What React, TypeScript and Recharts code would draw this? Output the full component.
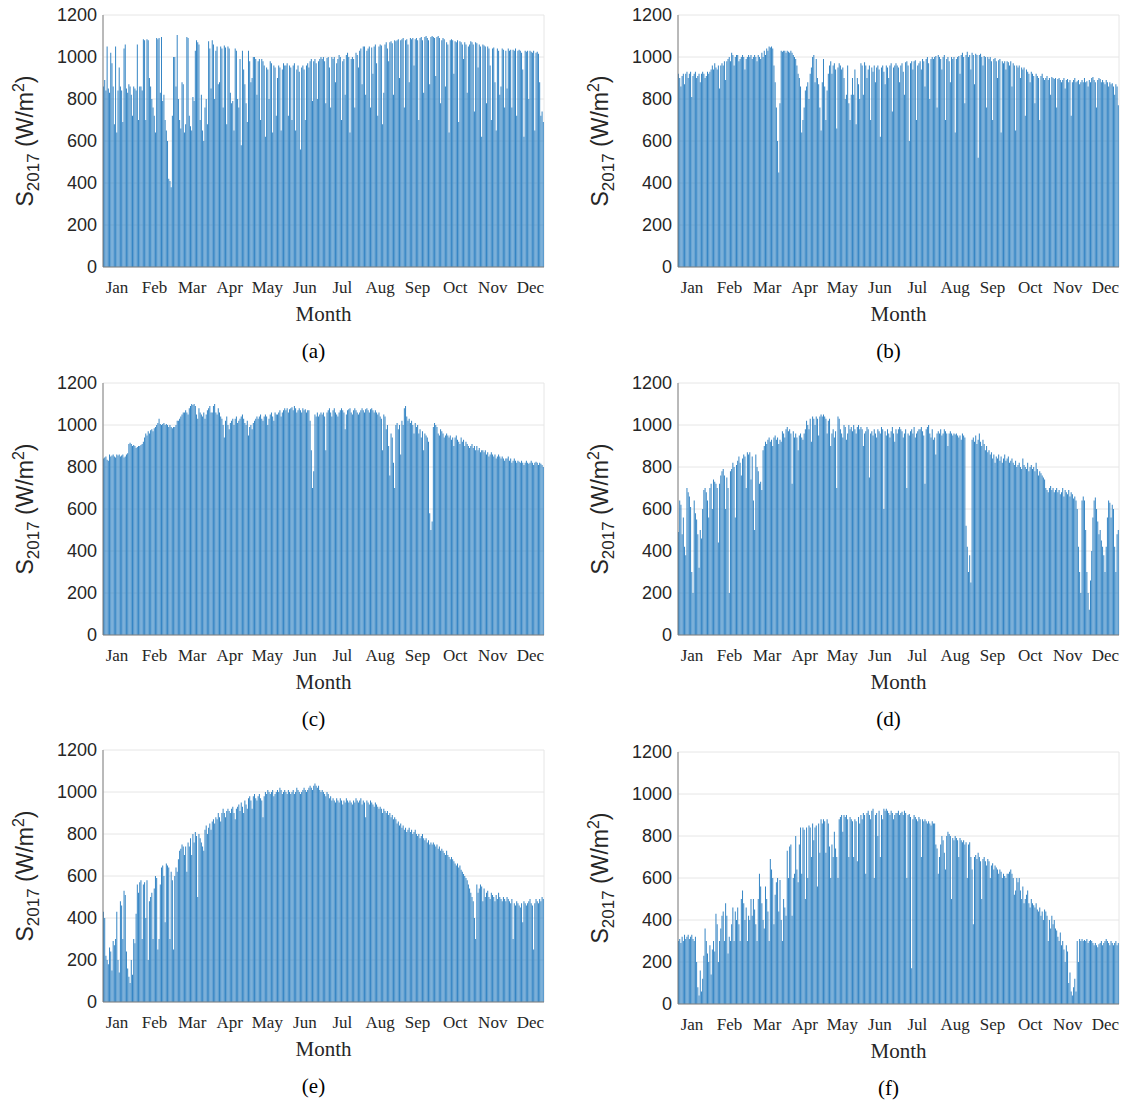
import React from 'react';
import { BarChart, Bar, XAxis, YAxis, CartesianGrid } from 'recharts';

// month labels / axis ticks
const monthNames = ['Jan', 'Feb', 'Mar', 'Apr', 'May', 'Jun', 'Jul', 'Aug', 'Sep', 'Oct', 'Nov', 'Dec'];
const monthDays = [31, 28, 31, 30, 31, 30, 31, 31, 30, 31, 30, 31];
const monthTickHours = [278, 1024, 1771, 2517, 3264, 4010, 4756, 5503, 6249, 6996, 7742, 8489];
const gridTicks = [0, 2000, 4000, 6000, 8000];
const yTicks = [0, 200, 400, 600, 800, 1000, 1200];

// daily peak irradiance (W/m2), one row per month
const peaksA = [
  [860, 890, 840, 1050, 850, 830, 1020, 970, 860, 680, 1050, 640, 840, 950, 860, 840, 690, 1040, 1060, 850, 830, 870, 860, 820, 720, 860, 850, 840, 1060, 700, 860],
  [860, 840, 1085, 1080, 700, 1085, 1080, 900, 860, 800, 760, 720, 640, 1090, 1085, 1090, 830, 1095, 790, 820, 700, 650, 600, 420, 410, 380, 720, 1000],
  [1000, 860, 1105, 800, 700, 660, 880, 870, 640, 680, 1095, 1090, 720, 670, 650, 810, 790, 1030, 1080, 1070, 1060, 700, 820, 650, 600, 760, 800, 680, 1075, 1040, 850],
  [1080, 1060, 800, 1030, 1050, 870, 880, 1050, 1040, 760, 1055, 1045, 680, 1050, 1040, 830, 780, 790, 650, 1040, 1030, 800, 760, 990, 580, 1030, 940, 870, 780, 690],
  [1030, 980, 880, 900, 1000, 1000, 990, 820, 980, 990, 700, 990, 980, 960, 620, 950, 940, 800, 980, 970, 640, 960, 950, 720, 900, 960, 950, 650, 940, 970, 960],
  [960, 970, 720, 960, 950, 700, 960, 970, 650, 940, 960, 930, 560, 950, 960, 940, 700, 960, 970, 950, 980, 990, 790, 980, 990, 970, 800, 980, 990, 1000],
  [990, 1000, 980, 780, 995, 1000, 950, 760, 1000, 990, 1000, 880, 970, 990, 1010, 1000, 700, 980, 990, 820, 1010, 1020, 1000, 640, 990, 1000, 990, 760, 1020, 1010, 950],
  [1030, 1040, 870, 1050, 1050, 820, 1030, 1040, 1050, 760, 1045, 920, 1050, 1060, 970, 720, 1050, 1060, 1055, 680, 830, 1060, 1070, 1040, 980, 1070, 1075, 1065, 820, 1080, 1075],
  [1080, 1085, 900, 1080, 1085, 1090, 760, 1080, 1085, 1060, 880, 1090, 1085, 1090, 960, 1085, 1090, 1080, 700, 1090, 1095, 1080, 830, 1095, 1100, 1090, 1080, 870, 1095, 1100],
  [1095, 1090, 910, 1095, 1100, 1090, 780, 1080, 1090, 1085, 860, 1070, 1060, 640, 1080, 1085, 1080, 920, 1075, 1070, 1080, 690, 1075, 1070, 1060, 990, 1070, 1060, 830, 1050, 1060],
  [1075, 1070, 1060, 740, 1070, 1065, 950, 1060, 1050, 620, 1060, 1055, 1050, 780, 1050, 1040, 960, 700, 1040, 1045, 880, 650, 1040, 1030, 820, 860, 1040, 1035, 760, 1030],
  [850, 1040, 1030, 1035, 760, 1035, 1030, 1040, 720, 1030, 1035, 1030, 1020, 940, 620, 1030, 1025, 1030, 800, 1030, 1025, 1020, 1030, 650, 1020, 1025, 1015, 880, 720, 740, 690],
];

const peaksB = [
  [920, 900, 860, 910, 920, 870, 920, 930, 900, 920, 930, 810, 910, 920, 930, 900, 910, 920, 880, 920, 930, 920, 900, 910, 930, 920, 930, 940, 960, 940, 970],
  [950, 940, 960, 850, 960, 970, 960, 980, 890, 980, 990, 1000, 980, 1020, 1010, 960, 1000, 1010, 1010, 980, 990, 1000, 1010, 1000, 940, 990, 1000, 1010],
  [1000, 1010, 990, 1000, 1010, 1000, 980, 1010, 1000, 990, 1020, 1000, 1030, 1010, 1040, 1030, 1050, 1045, 1050, 1040, 960, 880, 760, 600, 450, 780, 1030, 1025, 1030, 1030, 1020],
  [1030, 1025, 1020, 1030, 1020, 1010, 1000, 990, 960, 920, 900, 860, 640, 700, 760, 840, 860, 880, 800, 920, 950, 1000, 1010, 880, 990, 900, 870, 760, 650, 880],
  [990, 860, 700, 840, 920, 960, 980, 920, 960, 970, 940, 660, 950, 970, 960, 940, 950, 900, 800, 820, 960, 780, 700, 820, 900, 820, 940, 680, 900, 870, 800],
  [970, 960, 820, 975, 960, 900, 940, 960, 700, 950, 930, 960, 880, 950, 960, 940, 620, 950, 960, 930, 870, 960, 950, 900, 960, 970, 740, 950, 960, 970],
  [960, 950, 880, 960, 970, 930, 820, 975, 980, 960, 600, 970, 980, 940, 980, 985, 700, 960, 970, 980, 940, 990, 980, 860, 990, 1000, 970, 800, 990, 1000, 990],
  [1000, 1005, 760, 1010, 1000, 990, 940, 1000, 1010, 700, 990, 1000, 980, 880, 1000, 990, 1000, 640, 990, 1000, 1005, 920, 1010, 1020, 1000, 780, 1010, 1025, 1000, 1010, 940],
  [1020, 1010, 870, 1015, 1010, 520, 1010, 1015, 1000, 960, 1005, 1000, 760, 1000, 990, 1000, 980, 700, 990, 995, 980, 900, 985, 990, 640, 980, 970, 980, 940, 980],
  [975, 960, 980, 860, 970, 960, 650, 960, 950, 960, 900, 950, 940, 950, 720, 940, 930, 920, 880, 930, 920, 910, 780, 920, 910, 900, 700, 910, 920, 900, 890],
  [900, 910, 890, 900, 820, 905, 900, 895, 900, 760, 895, 900, 890, 880, 890, 900, 850, 890, 895, 880, 890, 720, 880, 890, 900, 880, 885, 890, 870, 880],
  [890, 880, 900, 880, 885, 860, 890, 880, 900, 905, 890, 880, 760, 890, 900, 895, 880, 890, 880, 870, 890, 880, 860, 880, 870, 875, 860, 820, 870, 860, 770],
];

const peaksC = [
  [840, 845, 850, 835, 830, 860, 850, 855, 860, 850, 845, 860, 855, 860, 850, 855, 860, 845, 850, 860, 865, 910, 915, 910, 900, 905, 900, 890, 895, 900, 900],
  [905, 910, 920, 940, 960, 950, 970, 960, 975, 980, 970, 985, 990, 1000, 1010, 1030, 1005, 1000, 1005, 1010, 1000, 1005, 1000, 990, 1000, 990, 985, 990],
  [990, 1000, 1020, 1020, 1030, 1040, 1050, 1060, 1060, 1070, 1060, 1050, 1080, 1090, 1100, 1095, 1100, 1090, 1050, 1030, 1080, 1060, 1050, 1040, 1060, 1030, 1050, 1070, 1080, 1090, 1060],
  [1060, 1090, 1100, 1060, 1050, 1080, 1060, 1040, 1030, 1000, 940, 1020, 1040, 1000, 980, 1010, 1020, 1030, 1000, 1030, 1040, 1010, 1020, 1030, 1040, 1050, 1030, 1010, 1000, 1020],
  [950, 990, 1000, 980, 1010, 1020, 1030, 1040, 1030, 1040, 1050, 1030, 1020, 1040, 1050, 1040, 1000, 1030, 1050, 1060, 1040, 1020, 1060, 1050, 1050, 1060, 1070, 1040, 1060, 1070, 1080],
  [1070, 1080, 1060, 1075, 1080, 1085, 1070, 1090, 1080, 1060, 1070, 1080, 1070, 1060, 1080, 1070, 1075, 1060, 1070, 1070, 1020, 880, 700, 780, 1050, 1040, 1060, 1040, 1050, 1060],
  [1050, 1060, 1040, 880, 1060, 1070, 1080, 1060, 1040, 1070, 1080, 1060, 1050, 1040, 1060, 1070, 1080, 1070, 1060, 980, 1050, 1070, 1075, 1080, 1060, 1050, 1070, 1080, 1070, 1060, 1050],
  [1060, 1070, 1080, 1070, 1060, 1075, 1080, 1070, 1060, 1075, 1080, 1070, 1060, 1070, 1060, 1050, 1060, 1040, 1030, 880, 1050, 1040, 980, 1000, 900, 760, 960, 940, 820, 700, 1000],
  [1010, 980, 1000, 860, 1020, 1000, 1080, 1090, 1040, 1020, 1030, 1010, 1020, 1000, 960, 1010, 990, 1000, 960, 980, 940, 970, 880, 960, 950, 940, 920, 580, 500, 540],
  [990, 1010, 1000, 990, 960, 950, 980, 970, 960, 940, 950, 960, 950, 940, 950, 930, 940, 900, 940, 950, 930, 920, 910, 940, 920, 930, 900, 920, 910, 900, 890],
  [900, 910, 890, 900, 880, 900, 880, 890, 870, 880, 880, 870, 880, 860, 870, 850, 860, 870, 860, 850, 860, 840, 850, 860, 850, 840, 850, 840, 830, 840],
  [840, 850, 830, 840, 820, 830, 840, 830, 820, 830, 825, 820, 830, 820, 810, 820, 830, 820, 815, 820, 830, 820, 810, 820, 825, 820, 810, 820, 815, 810, 800],
];

const peaksD = [
  [490, 640, 620, 480, 560, 420, 380, 700, 680, 660, 610, 300, 200, 640, 580, 550, 480, 320, 500, 460, 600, 690, 700, 680, 640, 560, 700, 720, 600, 740, 730],
  [720, 700, 440, 720, 760, 780, 790, 760, 600, 750, 700, 200, 780, 790, 820, 800, 560, 810, 830, 850, 820, 760, 840, 860, 850, 700, 870, 860],
  [870, 740, 850, 640, 500, 860, 800, 780, 720, 730, 690, 880, 900, 920, 910, 930, 940, 920, 930, 900, 940, 950, 930, 940, 910, 930, 920, 970, 960, 940, 980],
  [990, 970, 980, 960, 720, 970, 940, 960, 940, 880, 950, 960, 940, 930, 960, 980, 1020, 1000, 980, 1030, 920, 1040, 1030, 1000, 1040, 1030, 950, 1040, 1050, 1040],
  [1050, 1040, 1030, 960, 1020, 1030, 900, 960, 980, 940, 970, 700, 1040, 1030, 980, 960, 940, 1000, 990, 930, 960, 1000, 980, 990, 970, 1000, 980, 960, 990, 1000, 980],
  [990, 980, 900, 960, 970, 990, 980, 750, 960, 970, 950, 980, 960, 940, 980, 970, 960, 990, 980, 600, 970, 950, 980, 960, 940, 970, 990, 960, 920, 980],
  [960, 980, 990, 980, 970, 940, 960, 980, 700, 960, 950, 970, 980, 960, 990, 940, 960, 970, 980, 980, 990, 970, 950, 720, 980, 990, 1000, 960, 940, 980, 930],
  [940, 860, 960, 970, 960, 980, 950, 960, 980, 970, 960, 900, 960, 970, 960, 950, 960, 955, 960, 950, 940, 950, 930, 960, 950, 940, 520, 420, 300, 380, 250],
  [930, 940, 920, 950, 910, 930, 960, 920, 900, 930, 910, 880, 900, 870, 880, 860, 870, 840, 860, 820, 850, 840, 860, 830, 850, 820, 840, 860, 830, 840],
  [850, 820, 830, 840, 820, 810, 830, 800, 810, 820, 800, 790, 840, 810, 800, 790, 820, 780, 800, 810, 790, 800, 780, 820, 790, 760, 780, 770, 760, 750, 740],
  [700, 690, 680, 700, 710, 690, 700, 680, 690, 700, 680, 690, 670, 680, 700, 660, 690, 680, 670, 690, 660, 680, 670, 650, 660, 640, 600, 420, 300, 200],
  [640, 660, 640, 500, 300, 200, 120, 260, 400, 560, 640, 655, 600, 540, 480, 500, 450, 420, 380, 300, 420, 560, 640, 630, 560, 620, 600, 420, 300, 480, 500],
];

const peaksE = [
  [430, 400, 220, 200, 180, 260, 240, 150, 290, 270, 300, 430, 200, 140, 480, 460, 300, 530, 510, 240, 160, 120, 90, 200, 130, 300, 280, 420, 560, 520, 570],
  [580, 300, 560, 570, 400, 580, 200, 480, 500, 520, 300, 540, 600, 590, 250, 300, 560, 640, 650, 600, 380, 660, 650, 640, 300, 620, 580, 250],
  [600, 640, 620, 680, 720, 730, 750, 740, 700, 740, 620, 760, 740, 780, 700, 800, 760, 810, 790, 500, 800, 780, 760, 740, 720, 820, 840, 800, 830, 850, 820],
  [860, 870, 850, 880, 870, 900, 880, 860, 900, 920, 900, 880, 910, 920, 910, 900, 920, 930, 900, 870, 920, 930, 940, 910, 950, 930, 900, 960, 940, 920],
  [970, 980, 960, 920, 980, 990, 970, 960, 980, 990, 970, 960, 880, 980, 1000, 990, 1010, 1000, 990, 1000, 1010, 980, 990, 1000, 1010, 1000, 1020, 1010, 990, 1000, 1010],
  [1000, 990, 1010, 1000, 990, 1000, 1010, 990, 1000, 1020, 1010, 1000, 990, 1000, 1010, 1020, 1010, 1000, 1010, 1020, 1030, 1020, 1010, 1030, 1040, 1030, 1020, 1030, 1010, 1000],
  [1010, 1000, 990, 980, 1000, 990, 970, 980, 960, 970, 960, 950, 970, 960, 950, 970, 960, 940, 960, 950, 970, 960, 950, 960, 950, 940, 960, 950, 970, 960, 950],
  [960, 970, 940, 960, 950, 880, 960, 950, 940, 960, 950, 940, 930, 950, 940, 930, 920, 930, 920, 900, 920, 910, 900, 910, 890, 900, 880, 890, 870, 880, 870],
  [850, 860, 840, 850, 830, 840, 820, 830, 810, 820, 830, 810, 820, 800, 810, 820, 800, 790, 800, 780, 790, 800, 780, 770, 780, 760, 770, 750, 760, 750],
  [760, 750, 740, 750, 730, 740, 720, 730, 720, 710, 700, 720, 700, 690, 680, 690, 680, 670, 660, 650, 660, 640, 650, 630, 620, 610, 600, 590, 580, 560, 540],
  [520, 500, 480, 400, 300, 560, 520, 540, 560, 550, 480, 540, 500, 520, 530, 500, 490, 520, 510, 500, 480, 510, 490, 520, 500, 490, 480, 500, 490, 480],
  [500, 490, 480, 470, 490, 300, 470, 460, 480, 470, 460, 450, 470, 380, 480, 470, 460, 470, 480, 490, 470, 460, 250, 470, 490, 480, 470, 490, 480, 500, 490],
];

const peaksF = [
  [300, 310, 290, 320, 300, 330, 310, 320, 330, 310, 320, 330, 310, 300, 320, 200, 80, 40, 160, 60, 120, 230, 360, 300, 240, 200, 280, 140, 260, 300, 250],
  [430, 380, 200, 300, 360, 420, 440, 300, 480, 420, 240, 320, 300, 380, 460, 300, 440, 400, 460, 380, 300, 500, 540, 480, 400, 460, 300, 420],
  [400, 500, 420, 500, 450, 380, 300, 500, 620, 560, 480, 400, 360, 560, 500, 440, 300, 690, 640, 600, 380, 520, 580, 600, 440, 590, 400, 300, 500, 460, 420],
  [730, 600, 750, 760, 420, 600, 620, 800, 640, 580, 760, 840, 620, 840, 830, 500, 840, 600, 850, 840, 700, 860, 780, 840, 850, 560, 860, 720, 880, 860],
  [880, 870, 720, 880, 860, 750, 600, 760, 700, 820, 740, 700, 600, 880, 890, 900, 820, 900, 890, 900, 880, 700, 890, 880, 870, 700, 880, 870, 680, 890, 860],
  [900, 880, 910, 900, 620, 910, 920, 900, 880, 920, 930, 600, 900, 910, 800, 920, 700, 900, 880, 930, 920, 930, 920, 910, 900, 920, 910, 880, 900, 910],
  [910, 920, 900, 910, 915, 900, 920, 910, 600, 900, 905, 890, 170, 880, 900, 890, 880, 870, 890, 880, 700, 880, 870, 880, 870, 860, 870, 860, 850, 870, 860],
  [860, 760, 740, 620, 700, 760, 800, 780, 720, 640, 800, 820, 810, 800, 500, 790, 780, 800, 790, 780, 700, 790, 780, 770, 780, 760, 770, 600, 760, 770, 700],
  [640, 380, 700, 710, 690, 720, 700, 680, 500, 690, 700, 680, 660, 690, 680, 600, 660, 670, 640, 660, 650, 640, 620, 640, 630, 600, 620, 610, 600, 620],
  [620, 630, 640, 620, 600, 520, 540, 600, 580, 600, 540, 500, 560, 480, 500, 520, 540, 480, 460, 500, 480, 470, 460, 480, 450, 440, 460, 420, 440, 400, 450],
  [440, 420, 300, 400, 360, 420, 380, 400, 360, 350, 320, 300, 340, 280, 300, 260, 200, 280, 250, 100, 150, 60, 40, 80, 120, 60, 300, 200, 310, 300],
  [310, 300, 305, 300, 310, 290, 300, 305, 300, 290, 280, 290, 280, 270, 285, 290, 300, 280, 290, 300, 310, 300, 290, 280, 300, 290, 280, 290, 300, 280, 290],
];

const SANS = '"Liberation Sans", Arial, sans-serif';
const SERIF = '"Liberation Serif", "Times New Roman", serif';
const AXIS_COLOR = '#808080';
const BAR_COLOR = '#3585c4';

const PLOT_W = 441;
const PLOT_H = 252;
const AXIS_W = 100;
const TOP = 10;
const RIGHT = 10;
const MONTH_H = 34;

function buildRows(months: number[][]) {
  const rows: { h: number; v: number }[] = [];
  let start = 0;
  months.forEach((vals, m) => {
    vals.forEach((v, i) => rows.push({ h: (start + i) * 24 + 12, v }));
    start += monthDays[m];
  });
  return rows;
}

const monthLabel = (v: number) => monthNames[monthTickHours.indexOf(v)] ?? '';

interface PanelProps {
  months: number[][];
  letter: string;
  x: number;
  y: number;
}

const Panel = ({ months, letter, x, y }: PanelProps) => {
  const data = buildRows(months);
  return (
    <>
      <div style={{ position: 'absolute', left: x - AXIS_W, top: y - TOP }}>
        <BarChart
          width={AXIS_W + PLOT_W + RIGHT}
          height={TOP + PLOT_H + MONTH_H}
          data={data}
          margin={{ top: TOP, right: RIGHT, bottom: 0, left: 0 }}
        >
          <CartesianGrid xAxisId="grid" stroke="#e6e6e6" />
          <XAxis
            xAxisId="grid"
            dataKey="h"
            type="number"
            domain={[0, 8760]}
            ticks={gridTicks}
            height={0}
            tick={false}
            tickLine={false}
            axisLine={false}
          />
          <XAxis
            xAxisId="month"
            dataKey="h"
            type="number"
            domain={[0, 8760]}
            ticks={monthTickHours}
            interval={0}
            tickFormatter={monthLabel}
            height={MONTH_H}
            tickLine={false}
            tickSize={10}
            tickMargin={4}
            axisLine={{ stroke: AXIS_COLOR }}
            tick={{ fontFamily: SERIF, fontSize: 17, fill: '#262626' }}
          />
          <XAxis
            xAxisId="top"
            orientation="top"
            dataKey="h"
            type="number"
            domain={[0, 8760]}
            height={0}
            tick={false}
            tickLine={false}
            axisLine={{ stroke: AXIS_COLOR }}
          />
          <YAxis
            domain={[0, 1200]}
            ticks={yTicks}
            interval={0}
            width={AXIS_W}
            tickLine={false}
            tickSize={4}
            tickMargin={2}
            axisLine={{ stroke: AXIS_COLOR }}
            tick={{ fontFamily: SANS, fontSize: 18, fill: '#262626' }}
          />
          <YAxis
            yAxisId="r"
            orientation="right"
            domain={[0, 1200]}
            width={0}
            tick={false}
            tickLine={false}
            axisLine={{ stroke: AXIS_COLOR }}
          />
          <Bar xAxisId="grid" dataKey="v" fill={BAR_COLOR} barSize={1} isAnimationActive={false} />
        </BarChart>
      </div>
      <div
        style={{
          position: 'absolute',
          left: x - 76,
          top: y + PLOT_H / 2,
          transform: 'translate(-50%, -50%) rotate(-90deg)',
          whiteSpace: 'nowrap',
          fontFamily: SANS,
          fontSize: 23,
          color: '#262626',
        }}
      >
        S<sub style={{ fontSize: 17 }}>2017</sub> (W/m<sup style={{ fontSize: 16 }}>2</sup>)
      </div>
      <div
        style={{
          position: 'absolute',
          left: x + PLOT_W / 2,
          top: y + PLOT_H + 47,
          transform: 'translate(-50%, -50%)',
          fontFamily: SERIF,
          fontSize: 21,
          color: '#262626',
        }}
      >
        Month
      </div>
      <div
        style={{
          position: 'absolute',
          left: x + PLOT_W / 2 - 10,
          top: y + PLOT_H + 84,
          transform: 'translate(-50%, -50%)',
          fontFamily: SERIF,
          fontSize: 21,
          color: '#000',
        }}
      >
        ({letter})
      </div>
    </>
  );
};

export default function App() {
  return (
    <div style={{ position: 'absolute', left: 0, top: 0, width: 1122, height: 1106, background: '#fff' }}>
      <Panel months={peaksA} letter="a" x={103} y={15} />
      <Panel months={peaksB} letter="b" x={678} y={15} />
      <Panel months={peaksC} letter="c" x={103} y={383} />
      <Panel months={peaksD} letter="d" x={678} y={383} />
      <Panel months={peaksE} letter="e" x={103} y={750} />
      <Panel months={peaksF} letter="f" x={678} y={752} />
    </div>
  );
}
